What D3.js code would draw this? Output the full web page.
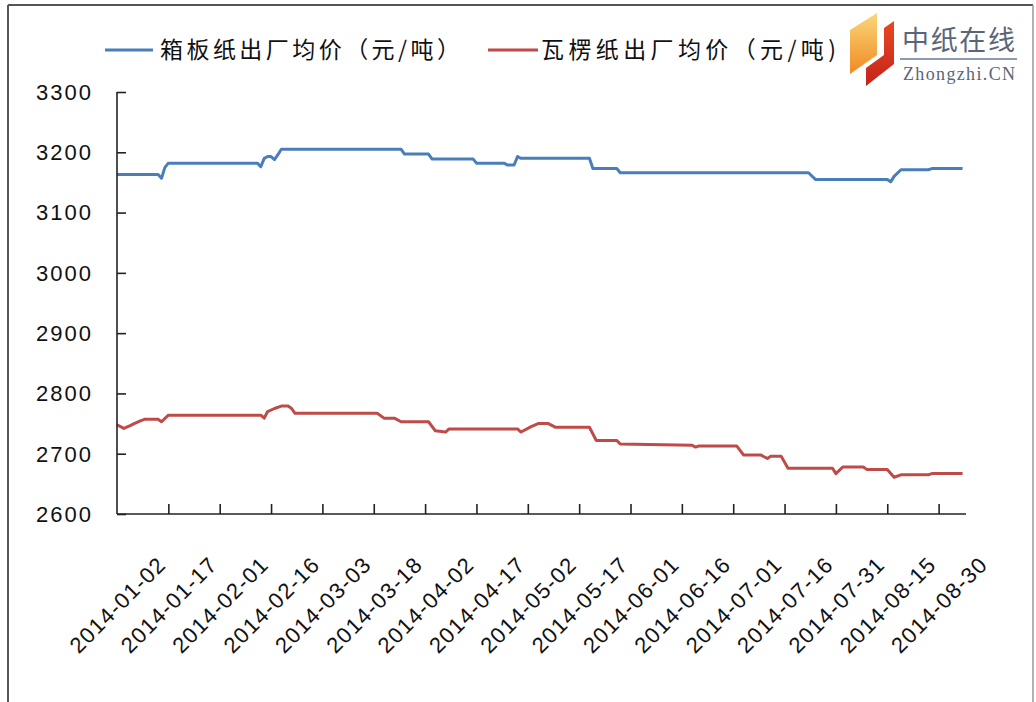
<!DOCTYPE html>
<html>
<head>
<meta charset="utf-8">
<script src="https://cdn.jsdelivr.net/npm/d3@7"></script>
<style>
  body { margin: 0; background: #fff; }
  svg { display: block; }
  .tick-label { font-family: "Liberation Sans", Arial, sans-serif; font-size: 22px; fill: #111; }
  .legend-text { font-family: "Noto Sans CJK SC", sans-serif; font-size: 23px; fill: #111; }
</style>
</head>
<body>
<svg id="chart"></svg>
<script>
// series names
var seriesNames = ["箱板纸出厂均价（元/吨）", "瓦楞纸出厂均价（元/吨)"];

// 箱板纸 (blue) - breakpoints
var boardDates = ["2014-01-02","2014-01-14","2014-01-15","2014-01-16","2014-01-17","2014-02-12","2014-02-13","2014-02-14",
  "2014-02-15","2014-02-16","2014-02-17","2014-02-18","2014-02-19","2014-03-26","2014-03-27","2014-04-03","2014-04-04",
  "2014-04-16","2014-04-17","2014-04-25","2014-04-26","2014-04-28","2014-04-29","2014-04-30","2014-05-20","2014-05-21",
  "2014-05-28","2014-05-29","2014-07-23","2014-07-25","2014-08-15","2014-08-16","2014-08-17","2014-08-19","2014-08-27",
  "2014-08-28","2014-09-06"];
var boardPrices = [3163,3163,3157,3175,3182,3182,3176,3190,
  3193,3193,3188,3196,3205,3205,3197,3197,3189,
  3189,3182,3182,3179,3179,3193,3190,3190,3173,
  3173,3166,3166,3155,3155,3151,3160,3171,3171,
  3173,3173];

// 瓦楞纸 (red)
var corrDates = ["2014-01-02","2014-01-04","2014-01-06","2014-01-07","2014-01-09","2014-01-10","2014-01-14","2014-01-15",
  "2014-01-17","2014-02-13","2014-02-14","2014-02-15","2014-02-17","2014-02-19","2014-02-21","2014-02-22","2014-02-23",
  "2014-03-19","2014-03-21","2014-03-24","2014-03-26","2014-04-03","2014-04-05","2014-04-08","2014-04-09","2014-04-29",
  "2014-04-30","2014-05-03","2014-05-05","2014-05-08","2014-05-10","2014-05-20","2014-05-22","2014-05-28","2014-05-29",
  "2014-06-19","2014-06-20","2014-06-21","2014-07-02","2014-07-04","2014-07-09","2014-07-10","2014-07-11","2014-07-12",
  "2014-07-15","2014-07-17","2014-07-30","2014-07-31","2014-08-02","2014-08-08","2014-08-09","2014-08-15","2014-08-17",
  "2014-08-19","2014-08-27","2014-08-28","2014-09-06"];
var corrPrices = [2748,2742,2747,2750,2755,2757,2757,2753,
  2764,2764,2759,2770,2775,2779,2779,2775,2767,
  2767,2759,2759,2753,2753,2738,2736,2741,2741,
  2736,2745,2750,2750,2744,2744,2722,2722,2716,
  2714,2711,2713,2713,2698,2698,2695,2692,2696,
  2696,2676,2676,2667,2678,2678,2674,2674,2661,
  2665,2665,2667,2667];

// axis ticks
var yTicks = [2600, 2700, 2800, 2900, 3000, 3100, 3200, 3300];
var xTickLabels = ["2014-01-02","2014-01-17","2014-02-01","2014-02-16","2014-03-03","2014-03-18","2014-04-02","2014-04-17",
  "2014-05-02","2014-05-17","2014-06-01","2014-06-16","2014-07-01","2014-07-16","2014-07-31","2014-08-15","2014-08-30"];

var colors = ["#4A7EBB", "#BE4B48"];

var width = 1036, height = 702;
var parseDate = d3.timeParse("%Y-%m-%d");

var svg = d3.select("#chart")
  .attr("width", width)
  .attr("height", height);

// outer frame
svg.append("line").attr("x1", 8).attr("y1", 5).attr("x2", 1033).attr("y2", 5)
  .attr("stroke", "#555").attr("stroke-width", 2);
svg.append("line").attr("x1", 8).attr("y1", 5).attr("x2", 8).attr("y2", 702)
  .attr("stroke", "#555").attr("stroke-width", 2);
svg.append("line").attr("x1", 1033).attr("y1", 5).attr("x2", 1033).attr("y2", 702)
  .attr("stroke", "#999").attr("stroke-width", 1.5);

// scales
var x = d3.scaleTime()
  .domain([parseDate("2014-01-02"), parseDate("2014-09-07")])
  .range([117, 966]);
var y = d3.scaleLinear()
  .domain([2600, 3300])
  .range([514, 92]);

var series = [
  boardDates.map(function(d, i) { return { date: parseDate(d), value: boardPrices[i] }; }),
  corrDates.map(function(d, i) { return { date: parseDate(d), value: corrPrices[i] }; })
];

var line = d3.line()
  .x(function(d) { return x(d.date); })
  .y(function(d) { return y(d.value); });

series.forEach(function(s, i) {
  svg.append("path")
    .datum(s)
    .attr("fill", "none")
    .attr("stroke", colors[i])
    .attr("stroke-width", 3)
    .attr("stroke-linejoin", "round")
    .attr("d", line);
});

// Y axis - ticks inside
var yAxis = svg.append("g")
  .attr("transform", "translate(117,0)")
  .call(d3.axisRight(y).tickValues(yTicks).tickSize(9).tickFormat(""));
yAxis.select(".domain").attr("d", "M0,92V514");
yAxis.selectAll("path, line").attr("stroke", "#222").attr("stroke-width", 1.6);

svg.selectAll(".ylab")
  .data(yTicks)
  .enter().append("text")
  .attr("class", "tick-label ylab")
  .attr("x", 93)
  .attr("y", function(d) { return y(d); })
  .attr("dy", "0.36em")
  .attr("text-anchor", "end")
  .attr("letter-spacing", 2)
  .text(function(d) { return d; });

// X axis - ticks inside (upward)
var xDates = xTickLabels.map(parseDate);
var xAxis = svg.append("g")
  .attr("transform", "translate(0,514)")
  .call(d3.axisTop(x).tickValues(xDates.slice(1)).tickSize(10).tickFormat(""));
xAxis.select(".domain").attr("d", "M117,0H966");
xAxis.selectAll("path, line").attr("stroke", "#222").attr("stroke-width", 1.6);

svg.selectAll(".xlab")
  .data(xTickLabels)
  .enter().append("text")
  .attr("class", "tick-label xlab")
  .attr("transform", function(d) { return "translate(" + x(parseDate(d)) + ",605) rotate(-45)"; })
  .attr("text-anchor", "middle")
  .attr("dy", "0.36em")
  .attr("textLength", 124)
  .attr("lengthAdjust", "spacing")
  .text(function(d) { return d; });

// legend
var legendX = [[105, 153, 160, 300], [488, 538, 541, 295]];
seriesNames.forEach(function(name, i) {
  svg.append("line")
    .attr("x1", legendX[i][0]).attr("x2", legendX[i][1])
    .attr("y1", 50).attr("y2", 50)
    .attr("stroke", colors[i]).attr("stroke-width", 3);
  svg.append("text")
    .attr("class", "legend-text")
    .attr("x", legendX[i][2])
    .attr("y", 50)
    .attr("dy", "0.36em")
    .attr("textLength", legendX[i][3])
    .attr("lengthAdjust", "spacing")
    .text(name);
});

// logo
var defs = svg.append("defs");
var g1 = defs.append("linearGradient").attr("id", "logoOrange").attr("x1", 0).attr("y1", 0).attr("x2", 0).attr("y2", 1);
g1.append("stop").attr("offset", "0%").attr("stop-color", "#FAD77A");
g1.append("stop").attr("offset", "100%").attr("stop-color", "#F08A22");
var g2 = defs.append("linearGradient").attr("id", "logoRed").attr("x1", 0).attr("y1", 0).attr("x2", 0).attr("y2", 1);
g2.append("stop").attr("offset", "0%").attr("stop-color", "#E84A22");
g2.append("stop").attr("offset", "100%").attr("stop-color", "#C4231A");

svg.append("path")
  .attr("d", "M850,30L877,13L877,55L850,74Z")
  .attr("fill", "url(#logoOrange)");
svg.append("path")
  .attr("d", "M884,28L894,21L894,64L866,86L866,68L884,55Z")
  .attr("fill", "url(#logoRed)");
svg.append("text")
  .attr("x", 902).attr("y", 40).attr("dy", "0.36em")
  .attr("textLength", 113).attr("lengthAdjust", "spacing")
  .style("font-family", "'Noto Sans CJK SC', sans-serif")
  .style("font-size", "27px")
  .style("fill", "#5A6578")
  .text("中纸在线");
svg.append("line")
  .attr("x1", 900).attr("x2", 1017).attr("y1", 59).attr("y2", 59)
  .attr("stroke", "#8A9AB0").attr("stroke-width", 2);
svg.append("text")
  .attr("x", 903).attr("y", 80)
  .attr("textLength", 112).attr("lengthAdjust", "spacing")
  .style("font-family", "'Liberation Serif', serif")
  .style("font-size", "18px")
  .style("fill", "#5A6578")
  .text("Zhongzhi.CN");
</script>
</body>
</html>
